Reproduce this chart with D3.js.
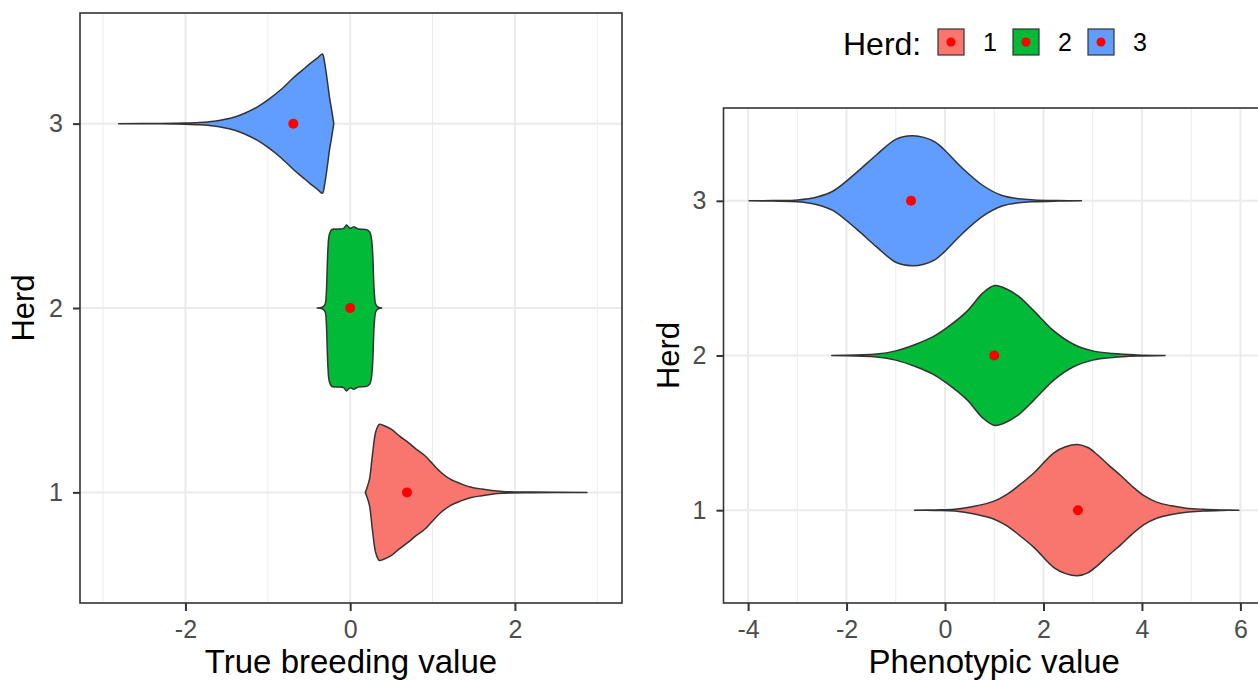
<!DOCTYPE html>
<html lang="en">
<head>
<meta charset="utf-8">
<title>Herd violins</title>
<script src="https://cdn.jsdelivr.net/npm/d3@7"></script>
<style>
body { margin: 0; background: #fff; }
svg { font-family: "Liberation Sans", Arial, Helvetica, sans-serif; }
</style>
</head>
<body>
<div id="chart"></div>
<script>

var herds = ["1", "2", "3"]

// violin outlines: [value, half width in herd units]
var tbvHerd1 = [[0.184,0],[0.2,0.02],[0.234,0.07],[0.269,0.2],[0.308,0.325],[0.34,0.362],[0.358,0.37],
	[0.4,0.364],[0.507,0.34],[0.6,0.305],[0.706,0.27],[0.8,0.235],[0.905,0.2],[1.0,0.155],[1.104,0.108],
	[1.22,0.07],[1.353,0.045],[1.47,0.028],[1.6,0.018],[1.72,0.01],[1.85,0.005],[2.2,0.002],[2.874,0]]
var tbvHerd2 = [[-0.40,0],[-0.34,0.004],[-0.305,0.02],[-0.29,0.08],[-0.28,0.2],[-0.27,0.32],[-0.255,0.395],
	[-0.225,0.425],[-0.16,0.428],[-0.08,0.432],[-0.045,0.45],[-0.025,0.442],[0.0,0.432],[0.04,0.44],[0.07,0.435],
	[0.1,0.428],[0.2,0.425],[0.24,0.41],[0.26,0.37],[0.275,0.28],[0.285,0.15],[0.295,0.07],[0.31,0.02],
	[0.34,0.004],[0.383,0]]
var tbvHerd3 = [[-2.81,0],[-2.3,0.001],[-2.0,0.003],[-1.83,0.006],[-1.65,0.013],[-1.53,0.022],[-1.4,0.036],
	[-1.28,0.056],[-1.13,0.09],[-0.985,0.133],[-0.84,0.185],[-0.686,0.25],[-0.58,0.29],[-0.487,0.325],
	[-0.4,0.355],[-0.338,0.378],[-0.31,0.33],[-0.28,0.24],[-0.25,0.14],[-0.22,0.06],[-0.199,0]]

var phenoHerd1 = [[-0.62,0],[-0.2,0.002],[0.2,0.006],[0.6,0.025],[1.01,0.06],[1.25,0.1],[1.49,0.157],
	[1.81,0.242],[2.21,0.371],[2.45,0.41],[2.69,0.424],[2.9,0.405],[3.09,0.36],[3.33,0.29],[3.58,0.221],
	[3.8,0.155],[4.05,0.092],[4.3,0.052],[4.6,0.028],[4.9,0.013],[5.24,0.006],[5.6,0.002],[5.97,0]]
var phenoHerd2 = [[-2.30,0],[-1.8,0.004],[-1.39,0.009],[-1.0,0.03],[-0.59,0.073],[-0.25,0.12],[0.04,0.18],
	[0.45,0.287],[0.77,0.405],[1.01,0.452],[1.25,0.43],[1.49,0.384],[1.81,0.287],[2.21,0.159],[2.61,0.073],
	[3.0,0.03],[3.41,0.013],[3.9,0.004],[4.47,0]]
var phenoHerd3 = [[-3.98,0],[-3.5,0.002],[-2.99,0.006],[-2.6,0.025],[-2.28,0.062],[-1.79,0.185],[-1.39,0.298],
	[-0.99,0.399],[-0.67,0.42],[-0.43,0.41],[-0.2,0.38],[-0.03,0.335],[0.37,0.206],[0.77,0.099],[1.16,0.034],
	[1.5,0.013],[1.81,0.006],[2.3,0.002],[2.77,0]]

var tbvMeans = [0.69, 0.0, -0.69]
var phenoMeans = [2.70, 1.0, -0.69]

var tbvTicks = [-2, 0, 2]
var tbvMinor = [-3, -1, 1, 3]
var phenoTicks = [-4, -2, 0, 2, 4, 6]
var phenoMinor = [-3, -1, 1, 3, 5]

var w = 1258
var h = 680

var fills = d3.scaleOrdinal()
	.domain(herds)
	.range(["#F8766D", "#00BA38", "#619CFF"])

var svg = d3.select("#chart")
	.append("svg")
	.attr("width", w)
	.attr("height", h)

function drawPanel(p) {
	var xScale = d3.scaleLinear().domain(p.xDomain).range([p.left, p.right])
	var yScale = d3.scaleLinear().domain([0.4, 3.6]).range([p.bottom, p.top])

	var g = svg.append("g")

	// grid
	g.selectAll(".minor").data(p.minor).enter().append("line")
		.attr("x1", d => xScale(d)).attr("x2", d => xScale(d))
		.attr("y1", p.top).attr("y2", p.bottom)
		.attr("stroke", "#EBEBEB").attr("stroke-width", 1)
	g.selectAll(".major").data(p.ticks).enter().append("line")
		.attr("x1", d => xScale(d)).attr("x2", d => xScale(d))
		.attr("y1", p.top).attr("y2", p.bottom)
		.attr("stroke", "#EBEBEB").attr("stroke-width", 2)
	g.selectAll(".hgrid").data(herds).enter().append("line")
		.attr("x1", p.left).attr("x2", p.right)
		.attr("y1", d => yScale(+d)).attr("y2", d => yScale(+d))
		.attr("stroke", "#EBEBEB").attr("stroke-width", 2)

	// violins
	p.violins.forEach(function(pts, i) {
		var herd = i + 1
		var area = d3.area()
			.x(d => xScale(d[0]))
			.y0(d => yScale(herd - d[1]))
			.y1(d => yScale(herd + d[1]))
			.curve(d3.curveCatmullRom.alpha(0.5))
		g.append("path")
			.datum(pts)
			.attr("d", area)
			.attr("fill", fills(herds[i]))
			.attr("stroke", "#333333")
			.attr("stroke-width", 1.5)
			.attr("stroke-linejoin", "round")
	})

	g.selectAll(".mean").data(p.means).enter().append("circle")
		.attr("cx", d => xScale(d))
		.attr("cy", (d, i) => yScale(i + 1))
		.attr("r", 5)
		.attr("fill", "#FF0000")

	// border
	g.append("rect")
		.attr("x", p.left).attr("y", p.top)
		.attr("width", p.right - p.left).attr("height", p.bottom - p.top)
		.attr("fill", "none").attr("stroke", "#333333").attr("stroke-width", 1.6)

	var xAxis = d3.axisBottom(xScale).tickValues(p.ticks).tickSize(8).tickPadding(9)
		.tickFormat(d => d < 0 ? "-" + Math.abs(d) : d)
	var yAxis = d3.axisLeft(yScale).tickValues([1, 2, 3]).tickSize(7).tickPadding(10)
		.tickFormat(d3.format("d"))

	var ax = g.append("g")
		.attr("transform", "translate(0," + p.bottom + ")")
		.call(xAxis)
	var ay = g.append("g")
		.attr("transform", "translate(" + p.left + ",0)")
		.call(yAxis)
	;[ax, ay].forEach(function(a) {
		a.select(".domain").remove()
		a.selectAll(".tick line").attr("stroke", "#333333").attr("stroke-width", 2)
		a.selectAll(".tick text").attr("fill", "#4D4D4D")
			.style("font-size", "25px").style("font-family", "inherit")
	})

	g.append("text")
		.attr("x", (p.left + p.right) / 2).attr("y", 673)
		.attr("text-anchor", "middle")
		.style("font-size", "33px")
		.text(p.xTitle)
	g.append("text")
		.attr("transform", "translate(" + p.yTitleX + "," + ((p.top + p.bottom) / 2) + ") rotate(-90)")
		.attr("text-anchor", "middle")
		.style("font-size", "31px")
		.text("Herd")
}

drawPanel({
	left: 80, right: 622, top: 13, bottom: 603,
	xDomain: [-3.28, 3.3],
	ticks: tbvTicks, minor: tbvMinor,
	violins: [tbvHerd1, tbvHerd2, tbvHerd3],
	means: tbvMeans,
	xTitle: "True breeding value",
	yTitleX: 34
})

drawPanel({
	left: 723.5, right: 1265, top: 108, bottom: 603,
	xDomain: [-4.5, 6.5],
	ticks: phenoTicks, minor: phenoMinor,
	violins: [phenoHerd1, phenoHerd2, phenoHerd3],
	means: phenoMeans,
	xTitle: "Phenotypic value",
	yTitleX: 679
})

// legend
var legend = svg.append("g")
legend.append("text")
	.attr("x", 843).attr("y", 55)
	.style("font-size", "32px")
	.text("Herd:")
var keys = legend.selectAll(".key").data(herds).enter().append("g")
	.attr("transform", (d, i) => "translate(" + (938 + i * 75) + ",29)")
keys.append("rect")
	.attr("width", 26).attr("height", 26)
	.attr("fill", d => fills(d))
	.attr("stroke", "#333333").attr("stroke-width", 1.2)
keys.append("circle")
	.attr("cx", 13).attr("cy", 13).attr("r", 4.5)
	.attr("fill", "#FF0000")
keys.append("text")
	.attr("x", 45).attr("y", 13)
	.attr("dy", "0.36em")
	.style("font-size", "25px")
	.text(d => d)

</script>
</body>
</html>
